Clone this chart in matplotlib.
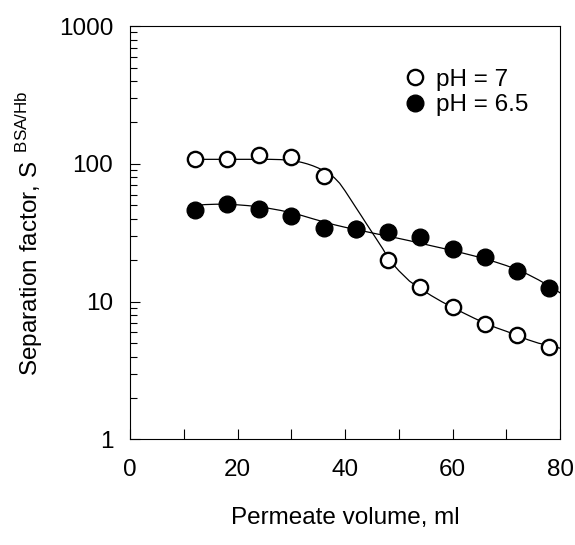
import numpy as np
import matplotlib
matplotlib.use('Agg')
import matplotlib.pyplot as plt
from matplotlib.ticker import LogLocator, FixedLocator, NullFormatter

plt.rcParams['font.family'] = ['Liberation Sans', 'DejaVu Sans']
plt.rcParams['mathtext.fontset'] = 'custom'
plt.rcParams['mathtext.rm'] = 'Liberation Sans'

# ── measured points ──
vol = [12, 18, 24, 30, 36, 42, 48, 54, 60, 66, 72, 78]
s_ph7 = [109, 109, 116, 113, 82, 33.6, 20.0, 12.7, 9.2, 6.9, 5.7, 4.7]
s_ph65 = [46, 51, 47, 42, 34.5, 33.6, 32.1, 29.3, 24.1, 21.0, 16.8, 12.5]

# ── fitted curves ──
fit_vol7 = [12, 16, 20, 24, 26, 28, 30, 31, 32, 33, 34, 35, 36, 37, 38, 39,
            40, 41, 42, 43, 44, 45, 46, 47, 48, 49, 50, 52, 54, 56, 58, 60,
            62, 64, 66, 68, 70, 72, 74, 76, 78, 80]
fit_ph7 = [108, 108, 108, 108, 108, 107.5, 106, 104.5, 102.5, 100, 97, 93.5,
           89.5, 85, 79.5, 72.4, 63.8, 55.6, 48.4, 42.2, 36.7, 32.0, 27.9,
           24.3, 20.9, 18.6, 16.8, 14.1, 12.45, 11.1, 10.0, 9.1, 8.3, 7.6,
           7.0, 6.5, 6.1, 5.7, 5.3, 5.0, 4.8, 4.6]
fit_vol65 = [12, 14, 16, 18, 20, 22, 24, 26, 28, 30, 32, 34, 36, 38, 40, 42,
             44, 46, 48, 50, 52, 54, 56, 58, 60, 62, 64, 66, 68, 70, 72, 74,
             76, 78, 80]
fit_ph65 = [50, 50.7, 51, 51, 50.5, 49.8, 48.8, 47.5, 46, 44.2, 42.2, 40, 38,
            36.2, 34.7, 33.4, 32.2, 31.0, 29.9, 28.8, 27.7, 26.6, 25.5, 24.5,
            23.5, 22.5, 21.5, 20.5, 19.4, 18.3, 17.1, 15.8, 14.4, 13.0, 11.6]

fig = plt.figure(figsize=(5.75, 5.45), dpi=100)
ax = fig.add_axes([0.2261, 0.1936, 0.974 - 0.2261, 0.952 - 0.1936])

ax.plot(fit_vol7, fit_ph7, color='black', lw=0.9, zorder=2)
ax.plot(fit_vol65, fit_ph65, color='black', lw=0.9, zorder=2)
ax.plot(vol, s_ph7, 'o', ms=11, mfc='white', mec='black', mew=1.7,
        label='pH = 7', zorder=3)
ax.plot(vol, s_ph65, 'o', ms=12, mfc='black', mec='black',
        label='pH = 6.5', zorder=3)

ax.set_yscale('log')
ax.set_xlim(0, 80)
ax.set_ylim(1, 1000)
ax.xaxis.set_major_locator(FixedLocator([0, 20, 40, 60, 80]))
ax.xaxis.set_minor_locator(FixedLocator([10, 30, 50, 70]))
ax.yaxis.set_minor_locator(LogLocator(base=10, subs=np.arange(2, 10)))
ax.yaxis.set_minor_formatter(NullFormatter())
ax.set_yticks([1, 10, 100, 1000])
ax.set_yticklabels(['1', '10', '100', '1000'])

ax.tick_params(which='both', direction='in', top=False, right=False,
               labelsize=17.5)
ax.tick_params(which='major', length=7, width=0.8)
ax.tick_params(which='minor', length=5, width=0.8)
ax.tick_params(axis='y', pad=12)
ax.tick_params(axis='x', pad=14)
ax.xaxis.set_tick_params(which='minor', length=7)
for sp in ax.spines.values():
    sp.set_linewidth(0.8)

ax.set_xlabel('Permeate volume, ml', fontsize=17.5, labelpad=19)
ax.set_ylabel(r'Separation factor, S$^{\;\;\rm BSA/Hb}$', fontsize=17.5,
              labelpad=10)

ax.legend(loc='upper left', bbox_to_anchor=(0.641, 0.897), frameon=False,
          fontsize=17.5, handlelength=0.8, handletextpad=0.45,
          labelspacing=0.15, borderaxespad=0, borderpad=0)

fig.savefig('out.png', dpi=100)
